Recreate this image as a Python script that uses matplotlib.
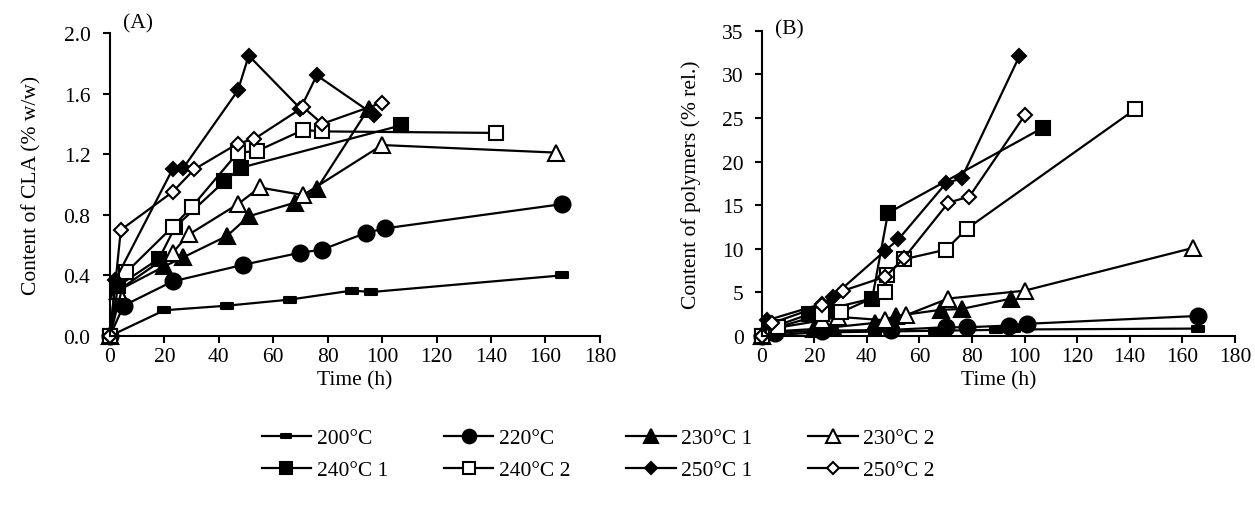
import numpy as np
import matplotlib.pyplot as plt
from matplotlib.path import Path

plt.rcParams['font.family'] = ['Liberation Serif', 'DejaVu Serif']
plt.rcParams['font.size'] = 15.5

# --- data ---
# panel A: content of CLA (% w/w)
t_200 = [0, 20, 43, 66, 89, 96, 166]
cla_200 = [0, 0.17, 0.20, 0.24, 0.30, 0.29, 0.40]
t_220 = [0, 5, 23, 49, 70, 78, 94, 101, 166]
cla_220 = [0, 0.20, 0.36, 0.47, 0.55, 0.57, 0.68, 0.71, 0.87]
t_230a = [0, 3, 20, 27, 43, 51, 68, 76, 95]
cla_230a = [0, 0.30, 0.46, 0.52, 0.66, 0.79, 0.88, 0.97, 1.50]
t_230b = [0, 3, 23, 29, 47, 55, 71, 100, 164]
cla_230b = [0, 0.30, 0.55, 0.67, 0.87, 0.98, 0.93, 1.26, 1.21]
t_240a = [0, 3, 18, 24, 42, 48, 107]
cla_240a = [0, 0.33, 0.51, 0.72, 1.02, 1.11, 1.39]
t_240b = [0, 6, 23, 30, 47, 54, 71, 78, 142]
cla_240b = [0, 0.42, 0.72, 0.85, 1.21, 1.22, 1.36, 1.35, 1.34]
t_250a = [0, 2, 23, 27, 47, 51, 70, 76, 97]
cla_250a = [0, 0.37, 1.10, 1.11, 1.62, 1.85, 1.50, 1.72, 1.46]
t_250b = [0, 4, 23, 31, 47, 53, 71, 78, 100]
cla_250b = [0, 0.70, 0.95, 1.10, 1.27, 1.30, 1.51, 1.40, 1.54]

# panel B: content of polymers (% rel.)
tp_200 = [0, 20, 43, 66, 89, 96, 166]
pol_200 = [0, 0.40, 0.50, 0.60, 0.70, 0.75, 0.85]
tp_220 = [0, 5, 23, 49, 70, 78, 94, 101, 166]
pol_220 = [0, 0.40, 0.60, 0.70, 1.00, 1.00, 1.20, 1.40, 2.30]
tp_230a = [0, 3, 20, 27, 43, 51, 68, 76, 95]
pol_230a = [0, 0.50, 0.80, 1.00, 1.50, 2.30, 3.00, 3.10, 4.30]
tp_230b = [0, 3, 23, 29, 47, 55, 71, 100, 164]
pol_230b = [0, 0.80, 1.80, 2.20, 1.80, 2.40, 4.30, 5.20, 10.1]
tp_240a = [0, 3, 18, 24, 42, 48, 107]
pol_240a = [0, 0.90, 2.50, 3.00, 4.30, 14.1, 23.9]
tp_240b = [0, 6, 23, 30, 46.8, 47.5, 54, 70, 78, 142]
pol_240b = [0, 1.00, 2.50, 2.70, 5.00, 7.00, 8.80, 9.90, 12.3, 26.0]
tp_250a = [0, 2, 23, 27, 47, 52, 70, 76, 98]
pol_250a = [0, 1.80, 3.70, 4.50, 9.80, 11.1, 17.5, 18.1, 32.1]
tp_250b = [0, 4, 23, 31, 47, 54, 71, 79, 100]
pol_250b = [0, 1.50, 3.50, 5.20, 6.80, 8.90, 15.3, 16.0, 25.3]

labels = ['200°C', '220°C', '230°C 1', '230°C 2',
          '240°C 1', '240°C 2', '250°C 1', '250°C 2']

dash = Path([(-1, -0.45), (1, -0.45), (1, 0.45), (-1, 0.45), (-1, -0.45)],
            [Path.MOVETO, Path.LINETO, Path.LINETO, Path.LINETO, Path.CLOSEPOLY])

# marker, size, filled
styles = [(dash, 9, True), ('o', 11.5, True), ('^', 11.5, True), ('^', 11.5, False),
          ('s', 10.5, True), ('s', 10.5, False), ('D', 7.5, True), ('D', 7.5, False)]

seriesA = [(t_200, cla_200), (t_220, cla_220), (t_230a, cla_230a), (t_230b, cla_230b),
           (t_240a, cla_240a), (t_240b, cla_240b), (t_250a, cla_250a), (t_250b, cla_250b)]
seriesB = [(tp_200, pol_200), (tp_220, pol_220), (tp_230a, pol_230a), (tp_230b, pol_230b),
           (tp_240a, pol_240a), (tp_240b, pol_240b), (tp_250a, pol_250a), (tp_250b, pol_250b)]

fig = plt.figure(figsize=(12.55, 5.06), dpi=100)
axA = fig.add_axes([0.0876, 0.334, 0.3904, 0.599])
axB = fig.add_axes([0.607, 0.334, 0.377, 0.603])


def draw(ax, series):
    handles = []
    for (x, y), lab, (m, ms, filled) in zip(series, labels, styles):
        h, = ax.plot(x, y, color='black', lw=1.6, marker=m, markersize=ms,
                     markerfacecolor='black' if filled else 'white',
                     markeredgecolor='black', markeredgewidth=1.5,
                     label=lab, clip_on=False)
        handles.append(h)
    for s in ['top', 'right']:
        ax.spines[s].set_visible(False)
    for s in ['left', 'bottom']:
        ax.spines[s].set_linewidth(1.5)
    ax.tick_params(direction='out', length=5, width=1.5)
    ax.tick_params(axis='x', pad=3)
    ax.set_xlim(0, 180)
    ax.set_xticks(np.arange(0, 181, 20))
    ax.set_xlabel('Time (h)', labelpad=3)
    return handles


handles = draw(axA, seriesA)
axA.set_ylim(0, 2.0)
axA.set_yticks(np.arange(0, 2.01, 0.4))
axA.set_yticklabels(['%.1f' % v for v in np.arange(0, 2.01, 0.4)])
axA.tick_params(axis='y', pad=9)
axA.set_ylabel('Content of CLA (% w/w)', labelpad=16)
axA.text(0.027, 1.0, '(A)', transform=axA.transAxes, va='bottom')

draw(axB, seriesB)
axB.set_ylim(0, 35)
axB.set_yticks(np.arange(0, 36, 5))
axB.tick_params(axis='y', pad=8)
axB.set_ylabel('Content of polymers (% rel.)', labelpad=15)
axB.text(0.027, 0.975, '(B)', transform=axB.transAxes, va='bottom')

order = [0, 4, 1, 5, 2, 6, 3, 7]
fig.legend([handles[i] for i in order], [labels[i] for i in order],
           loc='center', bbox_to_anchor=(0.4765, 0.1), ncol=4, frameon=False,
           handlelength=2.3, handletextpad=0.25, columnspacing=2.6,
           labelspacing=0.55, markerscale=0.85)

fig.savefig('out.png', dpi=100)
